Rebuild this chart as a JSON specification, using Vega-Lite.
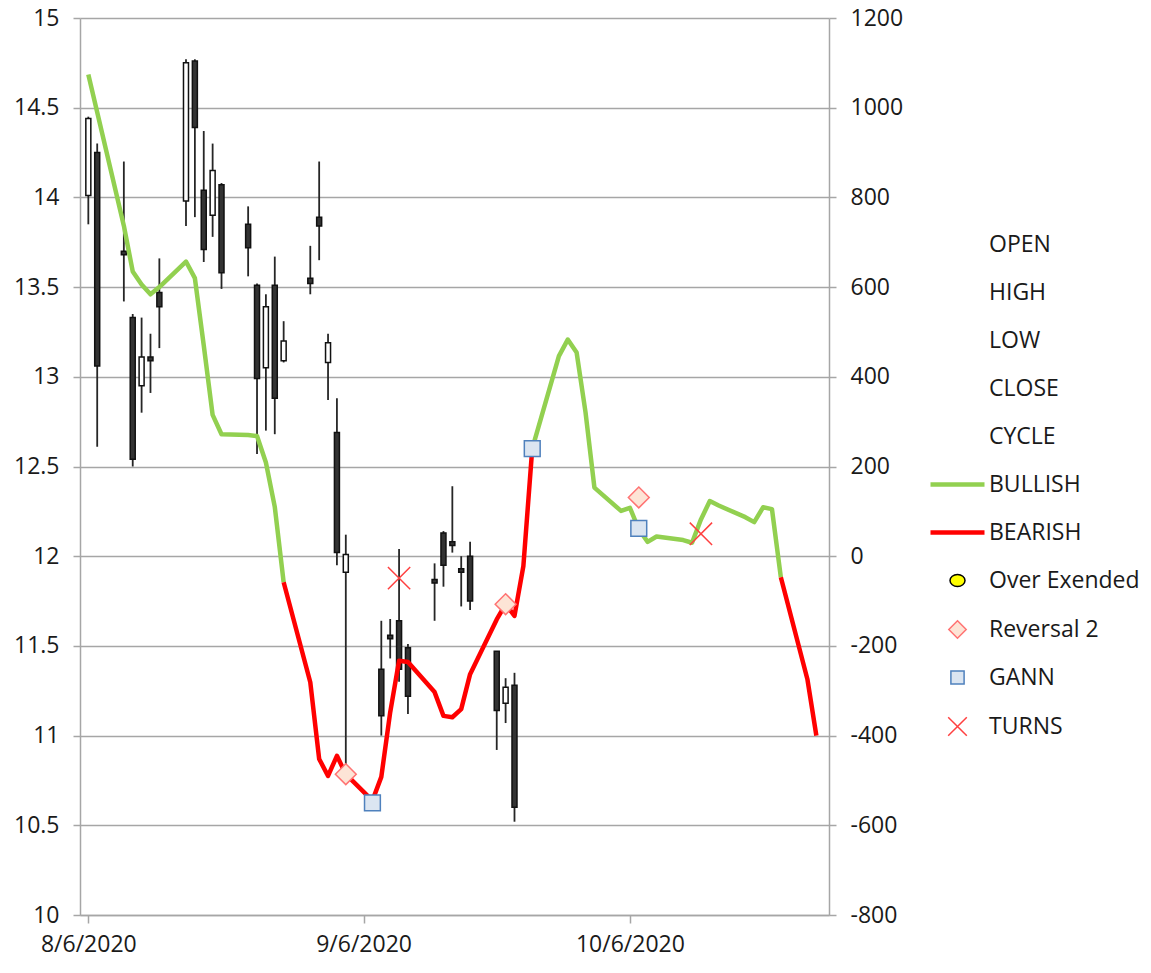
{
  "$schema": "https://vega.github.io/schema/vega-lite/v6.json",
  "width": 749,
  "height": 897,
  "autosize": {"type": "none"},
  "padding": {"left": 80, "top": 18, "right": 322, "bottom": 58},
  "background": "white",
  "config": {
    "view": {"stroke": null},
    "font": "Open Sans",
    "axis": {
      "labelFont": "Open Sans",
      "labelFontSize": 23,
      "labelColor": "#1a1a1a",
      "domainColor": "#a6a6a6",
      "domainWidth": 1.5,
      "tickColor": "#a6a6a6",
      "tickWidth": 1.5,
      "gridColor": "#a6a6a6",
      "gridWidth": 1.4,
      "title": null
    },
    "legend": {
      "orient": "none",
      "legendX": 866,
      "legendY": 215,
      "padding": 0,
      "symbolSize": 144,
      "symbolStrokeWidth": 1.5,
      "symbolOpacity": 1,
      "labelOffset": 20,
      "rowPadding": 24,
      "labelFont": "Open Sans",
      "labelFontSize": 23,
      "labelColor": "#1a1a1a",
      "labelLimit": 400,
      "title": null
    }
  },
  "datasets": {
    "candles": [
      {"date": "2020-08-06", "open": 14.01, "high": 14.45, "low": 13.85, "close": 14.44},
      {"date": "2020-08-07", "open": 14.25, "high": 14.30, "low": 12.61, "close": 13.06},
      {"date": "2020-08-10", "open": 13.70, "high": 14.20, "low": 13.42, "close": 13.68},
      {"date": "2020-08-11", "open": 13.33, "high": 13.35, "low": 12.50, "close": 12.54},
      {"date": "2020-08-12", "open": 12.95, "high": 13.33, "low": 12.80, "close": 13.11},
      {"date": "2020-08-13", "open": 13.11, "high": 13.24, "low": 12.91, "close": 13.09},
      {"date": "2020-08-14", "open": 13.47, "high": 13.66, "low": 13.16, "close": 13.39},
      {"date": "2020-08-17", "open": 13.98, "high": 14.77, "low": 13.84, "close": 14.75},
      {"date": "2020-08-18", "open": 14.76, "high": 14.77, "low": 13.89, "close": 14.39},
      {"date": "2020-08-19", "open": 14.04, "high": 14.37, "low": 13.64, "close": 13.71},
      {"date": "2020-08-20", "open": 13.90, "high": 14.30, "low": 13.78, "close": 14.15},
      {"date": "2020-08-21", "open": 14.07, "high": 14.08, "low": 13.49, "close": 13.58},
      {"date": "2020-08-24", "open": 13.85, "high": 13.95, "low": 13.56, "close": 13.72},
      {"date": "2020-08-25", "open": 13.51, "high": 13.52, "low": 12.57, "close": 12.99},
      {"date": "2020-08-26", "open": 13.05, "high": 13.46, "low": 12.70, "close": 13.39},
      {"date": "2020-08-27", "open": 13.51, "high": 13.67, "low": 12.68, "close": 12.88},
      {"date": "2020-08-28", "open": 13.09, "high": 13.31, "low": 13.08, "close": 13.20},
      {"date": "2020-08-31", "open": 13.55, "high": 13.73, "low": 13.46, "close": 13.52},
      {"date": "2020-09-01", "open": 13.89, "high": 14.20, "low": 13.65, "close": 13.84},
      {"date": "2020-09-02", "open": 13.08, "high": 13.24, "low": 12.87, "close": 13.19},
      {"date": "2020-09-03", "open": 12.69, "high": 12.88, "low": 11.95, "close": 12.02},
      {"date": "2020-09-04", "open": 11.91, "high": 12.12, "low": 10.81, "close": 12.01},
      {"date": "2020-09-08", "open": 11.37, "high": 11.64, "low": 11.00, "close": 11.11},
      {"date": "2020-09-09", "open": 11.56, "high": 11.65, "low": 11.43, "close": 11.54},
      {"date": "2020-09-10", "open": 11.64, "high": 12.04, "low": 11.30, "close": 11.37},
      {"date": "2020-09-11", "open": 11.49, "high": 11.51, "low": 11.12, "close": 11.22},
      {"date": "2020-09-14", "open": 11.87, "high": 11.96, "low": 11.64, "close": 11.85},
      {"date": "2020-09-15", "open": 12.13, "high": 12.14, "low": 11.83, "close": 11.95},
      {"date": "2020-09-16", "open": 12.08, "high": 12.39, "low": 12.02, "close": 12.06},
      {"date": "2020-09-17", "open": 11.93, "high": 12.00, "low": 11.72, "close": 11.91},
      {"date": "2020-09-18", "open": 12.00, "high": 12.08, "low": 11.70, "close": 11.75},
      {"date": "2020-09-21", "open": 11.47, "high": 11.47, "low": 10.92, "close": 11.14},
      {"date": "2020-09-22", "open": 11.18, "high": 11.32, "low": 11.07, "close": 11.27},
      {"date": "2020-09-23", "open": 11.28, "high": 11.35, "low": 10.52, "close": 10.60}
    ],
    "cycle": [
      {"date": "2020-08-06", "value": 1074, "trend": "BULLISH", "run": 1},
      {"date": "2020-08-07", "value": 990, "trend": "BULLISH", "run": 1},
      {"date": "2020-08-10", "value": 737, "trend": "BULLISH", "run": 1},
      {"date": "2020-08-11", "value": 635, "trend": "BULLISH", "run": 1},
      {"date": "2020-08-12", "value": 606, "trend": "BULLISH", "run": 1},
      {"date": "2020-08-13", "value": 584, "trend": "BULLISH", "run": 1},
      {"date": "2020-08-14", "value": 600, "trend": "BULLISH", "run": 1},
      {"date": "2020-08-17", "value": 657, "trend": "BULLISH", "run": 1},
      {"date": "2020-08-18", "value": 620, "trend": "BULLISH", "run": 1},
      {"date": "2020-08-19", "value": 470, "trend": "BULLISH", "run": 1},
      {"date": "2020-08-20", "value": 315, "trend": "BULLISH", "run": 1},
      {"date": "2020-08-21", "value": 272, "trend": "BULLISH", "run": 1},
      {"date": "2020-08-24", "value": 270, "trend": "BULLISH", "run": 1},
      {"date": "2020-08-25", "value": 268, "trend": "BULLISH", "run": 1},
      {"date": "2020-08-26", "value": 209, "trend": "BULLISH", "run": 1},
      {"date": "2020-08-27", "value": 110, "trend": "BULLISH", "run": 1},
      {"date": "2020-08-28", "value": -58, "trend": "BULLISH", "run": 1},
      {"date": "2020-08-28", "value": -58, "trend": "BEARISH", "run": 2},
      {"date": "2020-08-31", "value": -281, "trend": "BEARISH", "run": 2},
      {"date": "2020-09-01", "value": -452, "trend": "BEARISH", "run": 2},
      {"date": "2020-09-02", "value": -490, "trend": "BEARISH", "run": 2},
      {"date": "2020-09-03", "value": -445, "trend": "BEARISH", "run": 2},
      {"date": "2020-09-04", "value": -486, "trend": "BEARISH", "run": 2},
      {"date": "2020-09-07", "value": -545, "trend": "BEARISH", "run": 2},
      {"date": "2020-09-08", "value": -492, "trend": "BEARISH", "run": 2},
      {"date": "2020-09-09", "value": -348, "trend": "BEARISH", "run": 2},
      {"date": "2020-09-10", "value": -233, "trend": "BEARISH", "run": 2},
      {"date": "2020-09-11", "value": -236, "trend": "BEARISH", "run": 2},
      {"date": "2020-09-14", "value": -303, "trend": "BEARISH", "run": 2},
      {"date": "2020-09-15", "value": -356, "trend": "BEARISH", "run": 2},
      {"date": "2020-09-16", "value": -359, "trend": "BEARISH", "run": 2},
      {"date": "2020-09-17", "value": -341, "trend": "BEARISH", "run": 2},
      {"date": "2020-09-18", "value": -263, "trend": "BEARISH", "run": 2},
      {"date": "2020-09-21", "value": -141, "trend": "BEARISH", "run": 2},
      {"date": "2020-09-22", "value": -107, "trend": "BEARISH", "run": 2},
      {"date": "2020-09-23", "value": -133, "trend": "BEARISH", "run": 2},
      {"date": "2020-09-24", "value": -22, "trend": "BEARISH", "run": 2},
      {"date": "2020-09-25", "value": 240, "trend": "BEARISH", "run": 2},
      {"date": "2020-09-25", "value": 240, "trend": "BULLISH", "run": 3},
      {"date": "2020-09-28", "value": 446, "trend": "BULLISH", "run": 3},
      {"date": "2020-09-29", "value": 483, "trend": "BULLISH", "run": 3},
      {"date": "2020-09-30", "value": 454, "trend": "BULLISH", "run": 3},
      {"date": "2020-10-01", "value": 321, "trend": "BULLISH", "run": 3},
      {"date": "2020-10-02", "value": 153, "trend": "BULLISH", "run": 3},
      {"date": "2020-10-05", "value": 101, "trend": "BULLISH", "run": 3},
      {"date": "2020-10-06", "value": 108, "trend": "BULLISH", "run": 3},
      {"date": "2020-10-07", "value": 60, "trend": "BULLISH", "run": 3},
      {"date": "2020-10-08", "value": 32, "trend": "BULLISH", "run": 3},
      {"date": "2020-10-09", "value": 44, "trend": "BULLISH", "run": 3},
      {"date": "2020-10-12", "value": 36, "trend": "BULLISH", "run": 3},
      {"date": "2020-10-13", "value": 30, "trend": "BULLISH", "run": 3},
      {"date": "2020-10-14", "value": 82, "trend": "BULLISH", "run": 3},
      {"date": "2020-10-15", "value": 123, "trend": "BULLISH", "run": 3},
      {"date": "2020-10-16", "value": 113, "trend": "BULLISH", "run": 3},
      {"date": "2020-10-19", "value": 87, "trend": "BULLISH", "run": 3},
      {"date": "2020-10-20", "value": 76, "trend": "BULLISH", "run": 3},
      {"date": "2020-10-21", "value": 109, "trend": "BULLISH", "run": 3},
      {"date": "2020-10-22", "value": 105, "trend": "BULLISH", "run": 3},
      {"date": "2020-10-23", "value": -47, "trend": "BULLISH", "run": 3},
      {"date": "2020-10-23", "value": -47, "trend": "BEARISH", "run": 4},
      {"date": "2020-10-26", "value": -275, "trend": "BEARISH", "run": 4},
      {"date": "2020-10-27", "value": -400, "trend": "BEARISH", "run": 4}
    ],
    "markers": [
      {"date": "2020-09-04", "value": -486, "series": "Reversal 2"},
      {"date": "2020-09-22", "value": -107, "series": "Reversal 2"},
      {"date": "2020-10-07", "value": 131, "series": "Reversal 2"},
      {"date": "2020-09-07", "value": -550, "series": "GANN"},
      {"date": "2020-09-25", "value": 240, "series": "GANN"},
      {"date": "2020-10-07", "value": 62, "series": "GANN"},
      {"date": "2020-09-10", "value": -49, "series": "TURNS"},
      {"date": "2020-10-14", "value": 50, "series": "TURNS"}
    ]
  },
  "layer": [
    {
      "data": {"name": "candles"},
      "layer": [
        {
          "mark": {"type": "rule", "color": "#262626", "strokeWidth": 1.8},
          "encoding": {
            "x": {
              "field": "date", "type": "temporal",
              "scale": {"type": "utc", "domain": [
                {"year": 2020, "month": 8, "date": 5, "hours": 15, "utc": true},
                {"year": 2020, "month": 10, "date": 27, "hours": 20, "minutes": 40, "utc": true}
              ]},
              "axis": {
                "orient": "bottom",
                "values": [
                  {"year": 2020, "month": 8, "date": 6, "utc": true},
                  {"year": 2020, "month": 9, "date": 6, "utc": true},
                  {"year": 2020, "month": 10, "date": 6, "utc": true}
                ],
                "labelExpr": "utcFormat(datum.value, '%-m/%-d/%Y')",
                "tickSize": 8,
                "labelPadding": 10,
                "grid": false
              }
            },
            "y": {
              "field": "low", "type": "quantitative",
              "scale": {"domain": [10, 15], "nice": false, "zero": false},
              "axis": {
                "orient": "left",
                "values": [10, 10.5, 11, 11.5, 12, 12.5, 13, 13.5, 14, 14.5, 15],
                "labelExpr": "'' + datum.value",
                "tickSize": 7,
                "labelPadding": 14,
                "grid": true
              }
            },
            "y2": {"field": "high"}
          }
        },
        {
          "mark": {"type": "bar", "size": 5, "stroke": "#111111", "strokeWidth": 1.5},
          "encoding": {
            "x": {
              "field": "date", "type": "temporal",
              "scale": {"type": "utc", "domain": [
                {"year": 2020, "month": 8, "date": 5, "hours": 15, "utc": true},
                {"year": 2020, "month": 10, "date": 27, "hours": 20, "minutes": 40, "utc": true}
              ]},
              "axis": {
                "orient": "bottom",
                "values": [
                  {"year": 2020, "month": 8, "date": 6, "utc": true},
                  {"year": 2020, "month": 9, "date": 6, "utc": true},
                  {"year": 2020, "month": 10, "date": 6, "utc": true}
                ],
                "labelExpr": "utcFormat(datum.value, '%-m/%-d/%Y')",
                "tickSize": 8,
                "labelPadding": 10,
                "grid": false
              }
            },
            "y": {"field": "open", "type": "quantitative"},
            "y2": {"field": "close"},
            "fill": {"condition": {"test": "datum.close > datum.open", "value": "#ffffff"}, "value": "#333333"}
          }
        }
      ]
    },
    {
      "layer": [
        {
          "data": {"name": "cycle"},
          "transform": [{"filter": "datum.trend === 'BULLISH'"}],
          "mark": {"type": "line", "color": "#92d050", "strokeWidth": 4.5, "strokeJoin": "round"},
          "encoding": {
            "x": {
              "field": "date", "type": "temporal",
              "scale": {"type": "utc", "domain": [
                {"year": 2020, "month": 8, "date": 5, "hours": 15, "utc": true},
                {"year": 2020, "month": 10, "date": 27, "hours": 20, "minutes": 40, "utc": true}
              ]},
              "axis": {
                "orient": "bottom",
                "values": [
                  {"year": 2020, "month": 8, "date": 6, "utc": true},
                  {"year": 2020, "month": 9, "date": 6, "utc": true},
                  {"year": 2020, "month": 10, "date": 6, "utc": true}
                ],
                "labelExpr": "utcFormat(datum.value, '%-m/%-d/%Y')",
                "tickSize": 8,
                "labelPadding": 10,
                "grid": false
              }
            },
            "y": {
              "field": "value", "type": "quantitative",
              "scale": {"domain": [-800, 1200], "nice": false, "zero": false},
              "axis": {
                "orient": "right",
                "values": [-800, -600, -400, -200, 0, 200, 400, 600, 800, 1000, 1200],
                "labelExpr": "'' + datum.value",
                "tickSize": 7,
                "labelPadding": 14,
                "grid": false
              }
            },
            "detail": {"field": "run", "type": "nominal"}
          }
        },
        {
          "data": {"name": "cycle"},
          "transform": [{"filter": "datum.trend === 'BEARISH'"}],
          "mark": {"type": "line", "color": "#ff0000", "strokeWidth": 4.5, "strokeJoin": "round"},
          "encoding": {
            "x": {
              "field": "date", "type": "temporal",
              "scale": {"type": "utc", "domain": [
                {"year": 2020, "month": 8, "date": 5, "hours": 15, "utc": true},
                {"year": 2020, "month": 10, "date": 27, "hours": 20, "minutes": 40, "utc": true}
              ]},
              "axis": {
                "orient": "bottom",
                "values": [
                  {"year": 2020, "month": 8, "date": 6, "utc": true},
                  {"year": 2020, "month": 9, "date": 6, "utc": true},
                  {"year": 2020, "month": 10, "date": 6, "utc": true}
                ],
                "labelExpr": "utcFormat(datum.value, '%-m/%-d/%Y')",
                "tickSize": 8,
                "labelPadding": 10,
                "grid": false
              }
            },
            "y": {"field": "value", "type": "quantitative"},
            "detail": {"field": "run", "type": "nominal"}
          }
        },
        {
          "data": {"name": "markers"},
          "mark": {"type": "point", "filled": true, "opacity": 1, "size": 207, "strokeWidth": 1.5},
          "encoding": {
            "x": {
              "field": "date", "type": "temporal",
              "scale": {"type": "utc", "domain": [
                {"year": 2020, "month": 8, "date": 5, "hours": 15, "utc": true},
                {"year": 2020, "month": 10, "date": 27, "hours": 20, "minutes": 40, "utc": true}
              ]},
              "axis": {
                "orient": "bottom",
                "values": [
                  {"year": 2020, "month": 8, "date": 6, "utc": true},
                  {"year": 2020, "month": 9, "date": 6, "utc": true},
                  {"year": 2020, "month": 10, "date": 6, "utc": true}
                ],
                "labelExpr": "utcFormat(datum.value, '%-m/%-d/%Y')",
                "tickSize": 8,
                "labelPadding": 10,
                "grid": false
              }
            },
            "y": {"field": "value", "type": "quantitative"},
            "shape": {
              "field": "series", "type": "nominal",
              "scale": {
                "domain": ["OPEN", "HIGH", "LOW", "CLOSE", "CYCLE", "BULLISH", "BEARISH", "Over Exended", "Reversal 2", "GANN", "TURNS"],
                "range": ["M0,0Z", "M0,0Z", "M0,0Z", "M0,0Z", "M0,0Z", "M-4.5,-0.38H4.5V0.38H-4.5Z", "M-4.5,-0.38H4.5V0.38H-4.5Z", "M-1.25,0A1.25,1,0,1,0,1.25,0A1.25,1,0,1,0,-1.25,0Z", "M0,-1.45L1.45,0L0,1.45L-1.45,0Z", "M-1.1,-1.1H1.1V1.1H-1.1Z", "M-1.55,-1.55L1.55,1.55M1.55,-1.55L-1.55,1.55"]
              }
            },
            "fill": {
              "field": "series", "type": "nominal",
              "scale": {
                "domain": ["OPEN", "HIGH", "LOW", "CLOSE", "CYCLE", "BULLISH", "BEARISH", "Over Exended", "Reversal 2", "GANN", "TURNS"],
                "range": ["transparent", "transparent", "transparent", "transparent", "transparent", "#92d050", "#ff0000", "#ffff00", "#fde4d6", "#dbe5f1", "transparent"]
              }
            },
            "stroke": {
              "field": "series", "type": "nominal",
              "scale": {
                "domain": ["OPEN", "HIGH", "LOW", "CLOSE", "CYCLE", "BULLISH", "BEARISH", "Over Exended", "Reversal 2", "GANN", "TURNS"],
                "range": ["transparent", "transparent", "transparent", "transparent", "transparent", "transparent", "transparent", "#000000", "#ff7373", "#4f81bd", "#ff4040"]
              }
            }
          }
        }
      ]
    }
  ],
  "resolve": {"scale": {"y": "independent"}, "axis": {"y": "independent"}}
}
